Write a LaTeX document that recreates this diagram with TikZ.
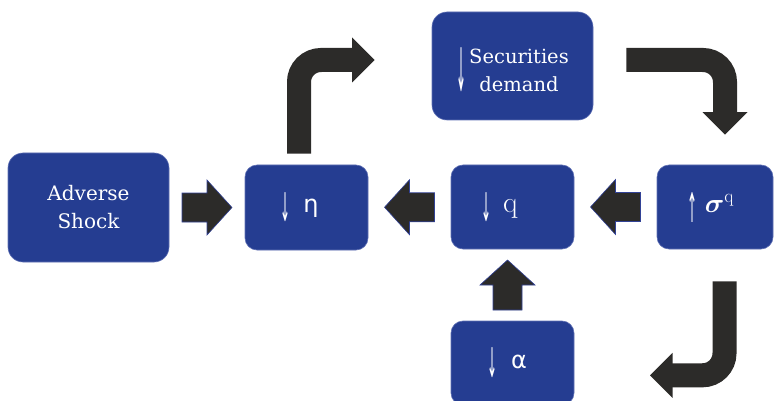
\RequirePackage{fix-cm}
\documentclass[tikz,border=0pt]{standalone}
\usepackage{exscale}
\usepackage{bm}
\usepackage{graphicx}
\usepackage[no-math]{fontspec}
\setmainfont{DejaVu Serif}
\newfontfamily\grk{DejaVu Sans}
\usetikzlibrary{calc}
\definecolor{boxblue}{RGB}{37,61,145}
\definecolor{boxedge}{RGB}{95,112,180}
\definecolor{arrowfill}{RGB}{44,43,41}
\definecolor{arrowedge}{RGB}{50,66,150}
\newcommand\mydarr[1]{$\vcenter{\hbox{\resizebox*{10pt}{#1pt}{\grk ↓}}}$}
\newcommand\myuarr[1]{$\vcenter{\hbox{\resizebox*{10pt}{#1pt}{\grk ↑}}}$}
\tikzset{
  bigbox/.style={rounded corners=15pt, fill=boxblue, draw=boxedge, line width=0.6pt,
    text=white, inner sep=0pt, font=\fontsize{20}{28}\selectfont},
  smallbox/.style={bigbox, rounded corners=12pt, minimum width=123pt, minimum height=85pt},
  bshaft/.style={draw=arrowfill, line width=24pt, rounded corners=22pt},
  blk/.pic={\path[fill=arrowfill, draw=arrowedge, line width=0.6pt]
     (-25,-14.5) -- (0,-14.5) -- (0,-27.5) -- (25,0) -- (0,27.5) -- (0,14.5) -- (-25,14.5) -- cycle;},
  bhd/.pic={\fill[arrowfill] (-0.5,-22.5) -- (22,0) -- (-0.5,22.5) -- cycle;}
}
\begin{document}
\begin{tikzpicture}[x=1pt,y=-1pt]
\useasboundingbox (0,0) rectangle (774,401);
% boxes
\node[bigbox, align=center, minimum width=161pt, minimum height=109pt] (shock) at (88.5,207.5) {Adverse\\Shock};
\node[smallbox] (eta) at (306.5,207.5) {\mydarr{29}\hspace{13pt}{\grk\fontsize{24}{24}\selectfont η}\hspace*{14pt}};
\node[bigbox, minimum width=161pt, minimum height=108pt] (sec) at (512.5,66)
  {\rule{0pt}{35pt}\mydarr{44}\hspace{3pt}\parbox[c]{100pt}{\centering\fontsize{19.5}{28}\selectfont Securities\\demand}};
\node[smallbox, minimum height=84pt] (q) at (512.5,207) {\mydarr{29}\hspace{12pt}{\fontsize{30}{30}\selectfont$\mathrm{q}$}\hspace*{26pt}};
\node[smallbox, minimum width=116pt, minimum height=84pt] (sig) at (715,207) {\myuarr{30}\hspace{7pt}{\fontsize{27}{27}\selectfont$\bm{\sigma}^{\mathrm{q}}$}\hspace*{8pt}};
\node[smallbox, minimum height=84pt] (alpha) at (512.5,363) {\mydarr{30}\hspace{14pt}{\grk\fontsize{24}{24}\selectfont α}\hspace*{11pt}};
% straight block arrows
\pic at ($(shock.east)!0.5!(eta.west)$) {blk};
\pic[rotate=180] at ($(eta.east)!0.5!(q.west)$) {blk};
\pic[rotate=180] at ($(q.east)!0.5!(sig.west)$) {blk};
\pic[rotate=90] at ($(q.south)!0.5!(alpha.north)+(-5,0)$) {blk};
% bent arrows
\draw[bshaft] ($(eta.north)+(-7.5,-11)$) |- ($(sec.west)+(-79,-6)$);
\pic at ($(sec.west)+(-79,-6)$) {bhd};
\draw[bshaft] ($(sec.east)+(33,-6)$) -| ($(sig.north)+(10,-52)$);
\pic[rotate=-90] at ($(sig.north)+(10,-52)$) {bhd};
\coordinate (loopend) at ($(sig.south)+(-43,126)$);
\draw[bshaft] ($(sig.south)+(9.5,32)$) |- (loopend);
\pic[rotate=180] at (loopend) {bhd};
\end{tikzpicture}
\end{document}
